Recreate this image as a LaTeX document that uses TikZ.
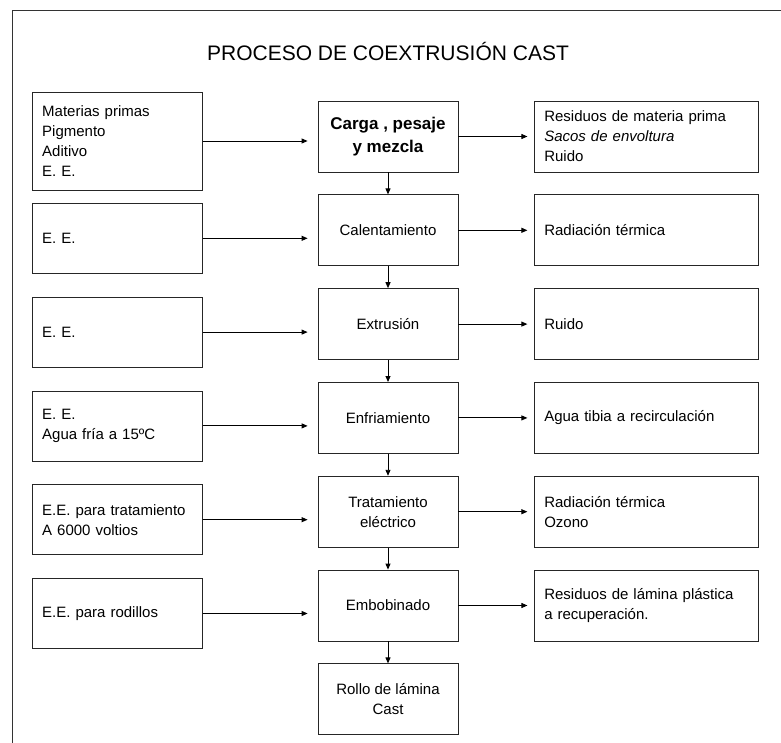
\documentclass[tikz,border=0pt]{standalone}
\usepackage{fontspec}
\setmainfont{Liberation Sans}
\usetikzlibrary{arrows.meta, positioning}

\begin{document}
\begin{tikzpicture}[
    x=1pt, y=1pt,
    proc/.style={
        rectangle, draw=black!85, line width=0.8pt,
        minimum width=140pt, minimum height=71pt, align=center,
        inner sep=3pt, font=\fontsize{15}{20}\selectfont
    },
    entrada/.style={
        rectangle, draw=black!85, line width=0.8pt,
        text width=150pt, inner xsep=10pt, minimum height=70pt,
        align=left, font=\fontsize{15}{20}\selectfont
    },
    salida/.style={
        rectangle, draw=black!85, line width=0.8pt,
        text width=205pt, inner xsep=9.5pt, minimum height=71pt,
        align=left, font=\fontsize{15}{20}\selectfont
    },
    arrow/.style={-{Triangle[length=6pt,width=5pt]}, line width=0.9pt},
    marco/.style={line width=0.8pt, draw=black!80}
]
\useasboundingbox (0,0) rectangle (781,-743);

% marco exterior
\coordinate (esq) at (12.5,-10.5);
\draw[marco] (781,-10.5) -- (esq) -- (12.5,-743);

\node[font=\fontsize{21}{25}\selectfont] (titulo) at (388,-51)
    {PROCESO DE COEXTRUSIÓN CAST};

% columna central
\node[proc, font=\fontsize{17}{23}\selectfont\bfseries] (c1) at (388,-136.5)
    {Carga , pesaje\\y mezcla};
\node[proc, below=22pt of c1] (c2) {Calentamiento};
\node[proc, below=22pt of c2] (c3) {Extrusión};
\node[proc, below=22pt of c3] (c4) {Enfriamiento};
\node[proc, below=22pt of c4] (c5) {Tratamiento\\eléctrico};
\node[proc, below=22pt of c5] (c6) {Embobinado};
\node[proc, below=22pt of c6] (c7) {Rollo de lámina\\Cast};

% entradas
\node[entrada, minimum height=98pt, left=115pt of c1, yshift=-4.5pt] (l1)
    {Materias primas\\Pigmento\\Aditivo\\E. E.};
\node[entrada, left=115pt of c2, yshift=-8pt] (l2) {E. E.};
\node[entrada, left=115pt of c3, yshift=-8pt] (l3) {E. E.};
\node[entrada, left=115pt of c4, yshift=-8pt] (l4) {E. E.\\Agua fría a 15ºC};
\node[entrada, left=115pt of c5, yshift=-8pt] (l5)
    {E.E. para tratamiento\\A 6000 voltios};
\node[entrada, left=115pt of c6, yshift=-8pt] (l6) {E.E. para rodillos};

% salidas
\node[salida, right=76pt of c1] (r1)
    {Residuos de materia prima\\\textit{Sacos de envoltura}\\Ruido};
\node[salida, right=76pt of c2] (r2) {Radiación térmica};
\node[salida, right=76pt of c3] (r3) {Ruido};
\node[salida, right=76pt of c4] (r4) {Agua tibia a recirculación};
\node[salida, right=76pt of c5] (r5) {Radiación térmica\\Ozono};
\node[salida, right=76pt of c6] (r6)
    {Residuos de lámina plástica\\a recuperación.};

\foreach \i/\j in {1/2,2/3,3/4,4/5,5/6,6/7}
    \draw[arrow] (c\i) -- (c\j);
\foreach \i in {1,...,6} {
    \draw[arrow, shorten >=10pt] (l\i.east) -- (l\i.east -| c\i.west);
    \draw[arrow, shorten >=7pt] (c\i.east) -- (r\i.west);
}
\end{tikzpicture}
\end{document}
